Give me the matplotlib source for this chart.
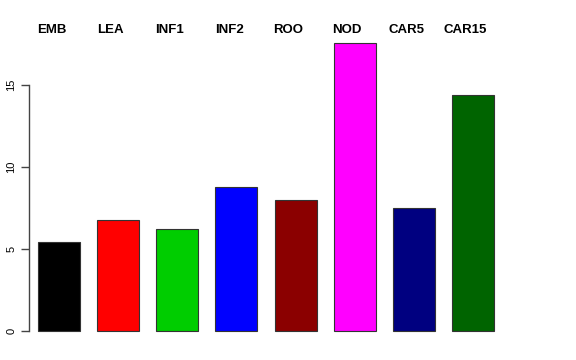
import matplotlib
matplotlib.use("Agg")
import matplotlib.pyplot as plt

categories = ["EMB", "LEA", "INF1", "INF2", "ROO", "NOD", "CAR5", "CAR15"]
values = [5.43, 6.77, 6.22, 8.78, 7.99, 17.56, 7.50, 14.39]
colors = ["#000000", "#FF0000", "#00CD00", "#0000FF", "#8B0000", "#FF00FF", "#000080", "#006400"]
yticks = [0, 5, 10, 15]

plt.rcParams['font.family'] = ['Liberation Sans', 'DejaVu Sans']

fig = plt.figure(figsize=(5.76, 3.6), dpi=100)
W, H = 576, 360
left_px, right_px = 29, 512
top_px, bot_px = 31.5, 342.5
ax = fig.add_axes([left_px / W, 1 - bot_px / H, (right_px - left_px) / W, (bot_px - top_px) / H])

x = list(range(len(categories)))
ax.bar(x, values, width=0.71, color=colors, edgecolor="#333333", linewidth=0.8)

spacing = 59.14
ax.set_xlim((left_px - 59) / spacing, (right_px - 59) / spacing)
ax.set_ylim(-0.70, 18.26)

for s in ["top", "right", "bottom"]:
    ax.spines[s].set_visible(False)
ax.spines["left"].set_bounds(0, 15)
ax.spines["left"].set_color("#444444")
ax.spines["left"].set_linewidth(1.0)
ax.set_xticks([])
ax.set_yticks(yticks)
ax.set_yticklabels([str(t) for t in yticks], rotation=90, va="center", fontsize=8)
ax.tick_params(axis="y", length=6, width=1.0, color="#444444", pad=3)

for xi, name in zip(x, categories):
    ax.text(xi - 0.125, 18.35, name, ha="center", va="center", fontsize=9.5,
            fontweight="bold", clip_on=False)

fig.savefig("out.png", dpi=100)
